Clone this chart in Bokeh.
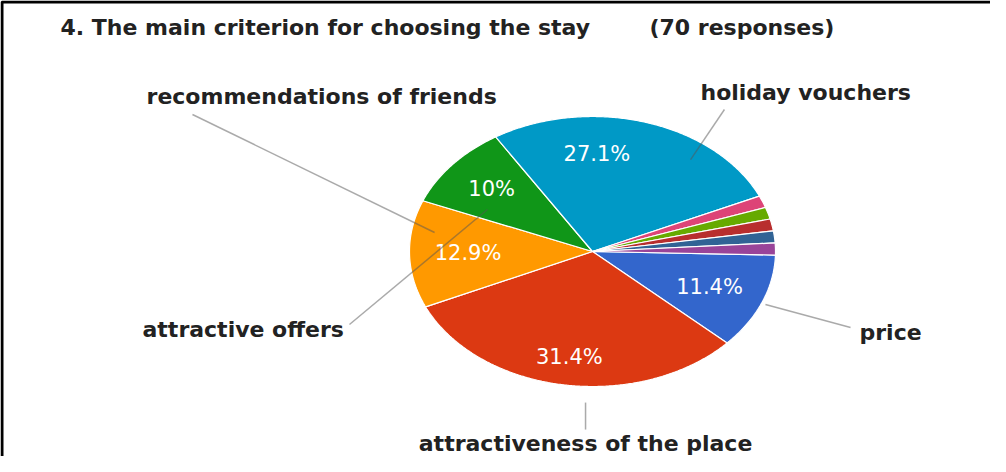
import numpy as np
from bokeh.plotting import figure
from bokeh.models import Range1d
from bokeh.embed import file_html
from bokeh.resources import INLINE
from bokeh.core.properties import value

# ---------------- data ----------------
title_text = "4. The main criterion for choosing the stay"
responses_text = "(70 responses)"
categories = ["price", "attractiveness of the place", "attractive offers",
              "recommendations of friends", "holiday vouchers",
              "other 1", "other 2", "other 3", "other 4", "other 5"]
responses = [8, 22, 9, 7, 19, 1, 1, 1, 1, 1]
colors = ["#3366cc", "#dc3912", "#ff9900", "#109618", "#0099c6",
          "#dd4477", "#66aa00", "#b82e2e", "#316395", "#994499"]
shown_labels = ["price", "attractiveness of the place", "attractive offers",
                "recommendations of friends", "holiday vouchers"]

# ---------------- layout (pie in unit coordinates) ----------------
W, H = 990, 456
CX_PX, CY_PX = 592, 251          # pie centre inside the figure (px from top-left)
RX_PX, RY_PX = 183, 135          # pie radii in px (elliptical pie)
START_DEG = -1.5                 # angle where first slice starts, going clockwise
pct_radius = [0.69, 0.79, 0.68, 0.72, 0.72]
pct_shift = [0, 0, 0, 0, 15]
# outer label anchors (unit coords), text alignment, leader lines (inner -> outer)
label_pos = {"price": (1.459, -0.600, "left"),
             "attractiveness of the place": (-0.038, -1.425, "center"),
             "attractive offers": (-2.459, -0.578, "left"),
             "recommendations of friends": (-2.437, 1.148, "left"),
             "holiday vouchers": (0.590, 1.178, "left")}
leaders = {"price": ((0.945, -0.393), (1.410, -0.563)),
           "attractiveness of the place": ((-0.038, -1.119), (-0.038, -1.319)),
           "attractive offers": ((-0.574, 0.311), (-1.328, -0.541)),
           "recommendations of friends": ((-0.863, 0.141), (-2.186, 1.015)),
           "holiday vouchers": ((0.536, 0.681), (0.721, 1.052))}

x_range = Range1d(-CX_PX / RX_PX, (W - CX_PX) / RX_PX)
y_range = Range1d(-(H - CY_PX) / RY_PX, CY_PX / RY_PX)

p = figure(width=W, height=H, x_range=x_range, y_range=y_range,
           output_backend="svg", toolbar_location=None,
           x_axis_location=None, y_axis_location=None, min_border=0)
p.grid.visible = False
p.outline_line_color = None
p.background_fill_color = "white"
p.border_fill_color = "white"

# ---------------- slices ----------------
total = sum(responses)
xs, ys, mids = [], [], []
a = START_DEG
for v in responses:
    span = 360.0 * v / total
    th = np.radians(np.linspace(a, a - span, max(4, int(span * 2))))
    xs.append([0.0] + list(np.cos(th)))
    ys.append([0.0] + list(np.sin(th)))
    mids.append(a - span / 2)
    a -= span

p.patches(xs, ys, fill_color=colors, line_color="white", line_width=1.2)

# ---------------- percentage labels ----------------
px_, py_, pt_ = [], [], []
for i in range(len(shown_labels)):
    ang = np.radians(mids[i] + pct_shift[i])
    px_.append(pct_radius[i] * np.cos(ang))
    py_.append(pct_radius[i] * np.sin(ang))
    pt_.append(f"{round(responses[i] / total * 100, 1):g}%")
p.text(x=px_, y=py_, text=pt_, text_color="white",
       text_font=value("DejaVu Sans"), text_font_size="21px",
       text_align="center", text_baseline="middle")

# ---------------- leader lines and outer labels ----------------
for name in shown_labels:
    (x0, y0), (x1, y1) = leaders[name]
    p.line([x0, x1], [y0, y1], line_color="#555555", line_alpha=0.5, line_width=1.5)
    lx, ly, al = label_pos[name]
    p.text(x=[lx], y=[ly], text=[name], text_color="#222222",
           text_font=value("DejaVu Sans"), text_font_style="bold",
           text_font_size="22px", text_align=al, text_baseline="middle")

# ---------------- title ----------------
ty = (CY_PX - 27) / RY_PX
p.text(x=[(68 - 8 - CX_PX) / RX_PX], y=[ty], text=[title_text], text_color="#222222",
       text_font=value("DejaVu Sans"), text_font_style="bold", text_font_size="22px",
       text_align="left", text_baseline="middle")
p.text(x=[(657 - 8 - CX_PX) / RX_PX], y=[ty], text=[responses_text], text_color="#222222",
       text_font=value("DejaVu Sans"), text_font_style="bold", text_font_size="22px",
       text_align="left", text_baseline="middle")

# ---------------- frame lines (top and left) ----------------
fx0 = x_range.start + 1.5 / RX_PX
fy1 = y_range.end - 1.5 / RY_PX
p.line([fx0, fx0, x_range.end], [y_range.start, fy1, fy1],
       line_color="black", line_width=3)

open("out.html", "w").write(file_html(p, INLINE))
